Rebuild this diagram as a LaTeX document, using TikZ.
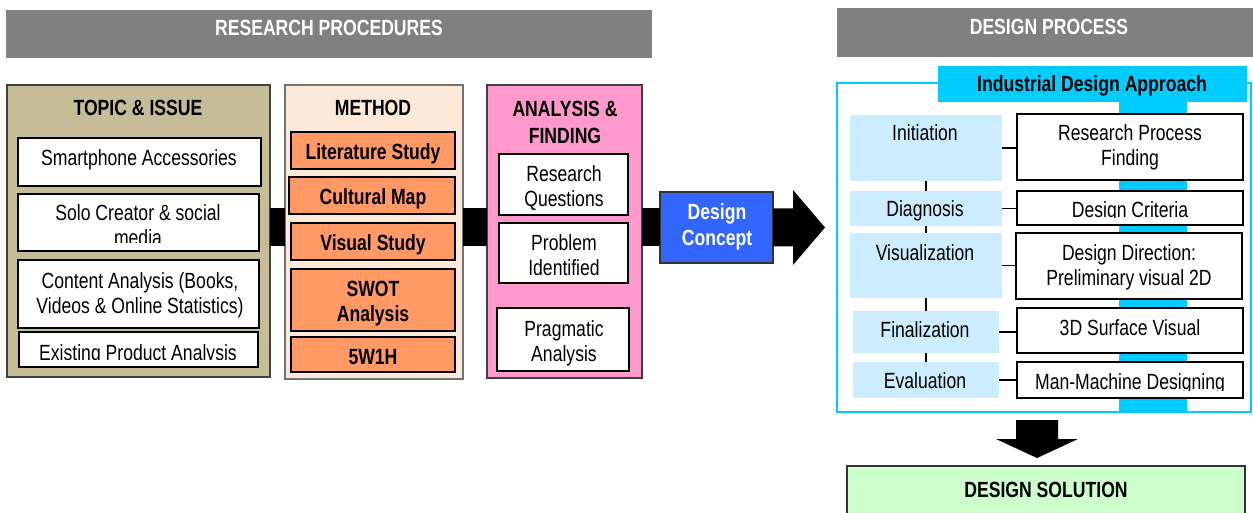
\documentclass[tikz,border=0pt]{standalone}
\usepackage{fontspec}
\setmainfont{Liberation Sans}[FakeStretch=0.8]
\definecolor{hdrgray}{HTML}{808080}
\definecolor{tanx}{HTML}{C4BD97}
\definecolor{peach}{HTML}{FDE9D9}
\definecolor{orng}{HTML}{FF9966}
\definecolor{pinkx}{HTML}{FF99CC}
\definecolor{cblue}{HTML}{3366FF}
\definecolor{cyanx}{HTML}{00CCFF}
\definecolor{lblue}{HTML}{CCECFF}
\definecolor{lgreen}{HTML}{CCFFCC}
\newcommand{\mkbox}[6]{\node[#1, minimum width={(#5)-(#3)}, minimum height={(#6)-(#4)}] (#2) at ({((#3)+(#5))/2},{((#4)+(#6))/2}) {};}
\newcommand{\twoline}[2]{\begin{tabular}[t]{@{}c@{}}#1\\#2\end{tabular}}
\tikzset{
  box/.style={rectangle, inner sep=0pt, outer sep=0pt},
  wbox/.style={box, fill=white, draw=black, line width=2pt},
  obox/.style={box, fill=orng, draw=black, line width=2pt},
  lbox/.style={box, fill=lblue},
  txt/.style={inner sep=0pt, outer sep=0pt, anchor=base, font=\fontsize{22}{25}\selectfont},
  btxt/.style={txt, font=\fontsize{22}{25}\selectfont\bfseries},
  bar/.style={draw=black, line width=38pt},
  conn/.style={draw=black, line width=1.6pt},
  vconn/.style={draw=black, line width=1.3pt}
}
\begin{document}
\begin{tikzpicture}[x=1pt,y=-1pt]
\useasboundingbox (0,0) rectangle (1253,513);
\fill[white] (0,0) rectangle (1253,513);

% headers
\mkbox{box, fill=hdrgray}{hdrA}{6}{10}{652}{58}
\mkbox{box, fill=hdrgray}{hdrB}{837}{8}{1253}{57}
\node[btxt, text=white] (hdrAt) at (329,36) {RESEARCH PROCEDURES};
\node[btxt, text=white] (hdrBt) at (1049,35) {DESIGN PROCESS};

% topic & issue
\mkbox{box, fill=tanx, draw=black!75, line width=2pt}{topic}{7}{85}{270}{377}
\node[btxt] (topict) at (138,116) {TOPIC \& ISSUE};
\mkbox{wbox}{s1}{18}{138}{261}{186}
\mkbox{wbox}{s2}{18}{194}{259}{251}
\mkbox{wbox}{s3}{18}{260}{259}{328}
\mkbox{wbox}{s4}{19}{332}{258}{367}
\node[txt] (s1t) at (139,166) {Smartphone Accessories};
\begin{scope}
\clip (s2.north west) rectangle ([yshift=8pt]s2.south east);
\node[txt] (s2t) at (138,221) {\twoline{Solo Creator \& social}{media}};
\end{scope}
\node[txt] (s3t) at (140,288) {\twoline{Content Analysis (Books,}{Videos \& Online Statistics)}};
\begin{scope}
\clip (s4.north west) rectangle ([yshift=8pt]s4.south east);
\node[txt] (s4t) at (138,360) {Existing Product Analysis};
\end{scope}

% method
\mkbox{box, fill=peach, draw=black!55, line width=1.6pt}{method}{285}{85}{463}{379}
\node[btxt] (methodt) at (373,116) {METHOD};
\mkbox{obox}{m1}{291}{132}{455}{169}
\mkbox{obox}{m2}{289}{177}{455}{214}
\mkbox{obox}{m3}{291}{223}{455}{260}
\mkbox{obox}{m4}{291}{269}{455}{331}
\mkbox{obox}{m5}{291}{337}{455}{372}
\node[btxt] (m1t) at (373,160) {Literature Study};
\node[btxt] (m2t) at (373,205) {Cultural Map};
\node[btxt] (m3t) at (373,251) {Visual Study};
\node[btxt] (m4t) at (373,296) {\twoline{SWOT}{Analysis}};
\node[btxt] (m5t) at (373,364) {5W1H};

% analysis & finding
\mkbox{box, fill=pinkx, draw=black!75, line width=1.6pt}{analysis}{487}{85}{642}{378}
\node[btxt] (analysist) at (565,117) {\begin{tabular}[t]{@{}c@{}}ANALYSIS \&\\[2pt]FINDING\end{tabular}};
\mkbox{wbox}{a1}{499}{154}{628}{215}
\mkbox{wbox}{a2}{499}{223}{628}{283}
\mkbox{wbox}{a3}{497}{308}{629}{371}
\node[txt] (a1t) at (564,182) {\twoline{Research}{Questions}};
\node[txt] (a2t) at (564,251) {\twoline{Problem}{Identified}};
\node[txt] (a3t) at (564,336) {\twoline{Pragmatic}{Analysis}};

% design concept
\mkbox{box, fill=cblue, draw=black!80, line width=1.6pt}{concept}{660}{192}{773}{263}
\node[btxt, text=white] (conceptt) at (717,220) {\twoline{Design}{Concept}};

% bars between research columns
\draw[bar] (topic.east |- concept.center) -- (method.west |- concept.center);
\draw[bar] (method.east |- concept.center) -- (analysis.west |- concept.center);
\draw[bar] (analysis.east |- concept.center) -- (concept.west);
\coordinate (abase) at (793,227.5);
\coordinate (atip) at (825,227.5);
\fill[black] ([yshift=19pt]concept.east) -- ([yshift=19pt]abase) -- ([yshift=37.5pt]abase) -- (atip) -- ([yshift=-37.5pt]abase) -- ([yshift=-19pt]abase) -- ([yshift=-19pt]concept.east) -- cycle;

% design process panel
\mkbox{box, fill=white, draw=cyanx, line width=2.5pt}{frame}{837}{83}{1251}{412}
\mkbox{box, fill=cyanx}{band}{1119}{102}{1187}{411}
\mkbox{box, fill=cyanx}{idtitle}{938}{66}{1247}{102}
\node[btxt] (idtitlet) at (1092,92) {Industrial Design Approach};

\mkbox{lbox}{l1}{850}{115}{1002}{181}
\mkbox{lbox}{l2}{850}{191}{1002}{226}
\mkbox{lbox}{l3}{850}{233}{1002}{298}
\mkbox{lbox}{l4}{853}{311}{999}{353}
\mkbox{lbox}{l5}{853}{362}{999}{398}
\node[txt] (l1t) at (925,141) {Initiation};
\node[txt] (l2t) at (925,217) {Diagnosis};
\node[txt] (l3t) at (925,260) {Visualization};
\node[txt] (l4t) at (925,337) {Finalization};
\node[txt] (l5t) at (925,388) {Evaluation};

\mkbox{wbox}{r1}{1017}{114}{1243}{180}
\mkbox{wbox}{r2}{1017}{191}{1243}{225}
\mkbox{wbox}{r3}{1016}{233}{1242}{299}
\mkbox{wbox}{r4}{1017}{308}{1243}{353}
\mkbox{wbox}{r5}{1017}{362}{1243}{398}
\node[txt] (r1t) at (1130,141) {\twoline{Research Process}{Finding}};
\begin{scope}
\clip (r2.north west) rectangle ([yshift=7pt]r2.south east);
\node[txt] (r2t) at (1130,218) {Design Criteria};
\end{scope}
\node[txt] (r3t) at (1129,260) {\twoline{Design Direction:}{Preliminary visual 2D}};
\node[txt] (r4t) at (1130,335) {3D Surface Visual};
\begin{scope}
\clip (r5.north west) rectangle ([yshift=8pt]r5.south east);
\node[txt] (r5t) at (1130,389) {Man-Machine Designing};
\end{scope}

\draw[conn] (l1.east) -- (l1.east -| r1.west);
\draw[conn] (l2.east) -- (l2.east -| r2.west);
\draw[conn] (l3.east) -- (l3.east -| r3.west);
\draw[conn] (l4.east) -- (l4.east -| r4.west);
\draw[conn] (l5.east) -- (l5.east -| r5.west);
\draw[vconn] (l1.south -| l4.center) -- (l2.north -| l4.center);
\draw[vconn] (l2.south -| l4.center) -- (l3.north -| l4.center);
\draw[vconn] (l3.south -| l4.center) -- (l4.north);
\draw[vconn] (l4.south) -- (l5.north);

% down arrow and solution
\coordinate (dtop) at (1037,420);
\coordinate (dneck) at (1037,439);
\coordinate (dtip) at (1037,458);
\fill[black] ([xshift=-21pt]dtop) -- ([xshift=21pt]dtop) -- ([xshift=21pt]dneck) -- ([xshift=41pt]dneck) -- (dtip) -- ([xshift=-41pt]dneck) -- ([xshift=-21pt]dneck) -- cycle;
\mkbox{box, fill=lgreen, draw=black!80, line width=1.6pt}{solution}{847}{466}{1245}{530}
\node[btxt] (solutiont) at (1046,497) {DESIGN SOLUTION};
\end{tikzpicture}
\end{document}
